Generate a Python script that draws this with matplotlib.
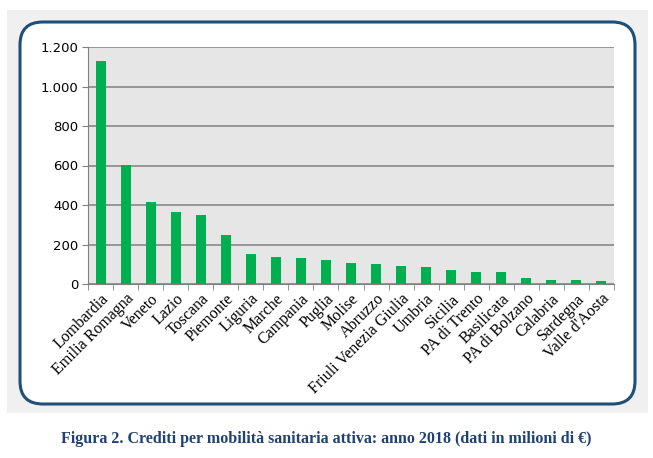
import matplotlib.pyplot as plt
from matplotlib.patches import FancyBboxPatch, Rectangle
from matplotlib.ticker import FuncFormatter

# Crediti per mobilita sanitaria attiva, anno 2018 (milioni di euro)
regioni = ['Lombardia', 'Emilia Romagna', 'Veneto', 'Lazio', 'Toscana', 'Piemonte',
           'Liguria', 'Marche', 'Campania', 'Puglia', 'Molise', 'Abruzzo',
           'Friuli Venezia Giulia', 'Umbria', 'Sicilia', 'PA di Trento', 'Basilicata',
           'PA di Bolzano', 'Calabria', 'Sardegna', "Valle d'Aosta"]
crediti = [1129, 602, 413, 365, 350, 248, 154, 137, 130, 124, 106, 101,
           91, 88, 73, 62, 61, 29, 19, 19, 14]
yticks = [0, 200, 400, 600, 800, 1000, 1200]

W, H = 653, 458
fig = plt.figure(figsize=(W / 100, H / 100), dpi=100)

# light shadow behind the frame, then the rounded white box
fig.patches.append(Rectangle((7 / W, 1 - 413 / H), 641 / W, 403 / H,
                             transform=fig.transFigure, facecolor='#f0f0f0',
                             edgecolor='none', zorder=0))
fig.patches.append(FancyBboxPatch((20 / W, 1 - 404 / H), 615 / W, 382 / H,
                                  boxstyle='round,pad=0,rounding_size=0.035',
                                  transform=fig.transFigure, facecolor='white',
                                  edgecolor='#1f4e79', linewidth=2.2, zorder=1,
                                  mutation_aspect=W / H))

ax = fig.add_axes([88 / W, 1 - 284 / H, (614 - 88) / W, (284 - 47) / H])
ax.set_zorder(2)
ax.set_facecolor('#e6e6e6')

x = range(len(regioni))
ax.bar(x, crediti, width=0.4, color='#00b050', zorder=3)

ax.set_xlim(-0.5, len(regioni) - 0.5)
ax.set_ylim(0, 1200)
ax.set_yticks(yticks)
ax.yaxis.set_major_formatter(FuncFormatter(lambda v, p: f'{int(v):,}'.replace(',', '.')))
ax.grid(axis='y', color='#808080', linewidth=1.1, zorder=1)
ax.tick_params(axis='y', length=4, color='#808080', labelsize=9.5, pad=3)

ax.set_xticks([i - 0.5 for i in range(len(regioni) + 1)], minor=True)
ax.set_xticks(list(x))
ax.set_xticklabels(regioni, rotation=45, ha='right', rotation_mode='anchor',
                   fontfamily='Liberation Serif', fontsize=11.5)
ax.tick_params(axis='x', which='major', length=0, pad=5)
ax.tick_params(axis='x', which='minor', length=4, color='#808080')

for side in ['top', 'right']:
    ax.spines[side].set_visible(False)
for side in ['left', 'bottom']:
    ax.spines[side].set_color('#808080')

fig.text(0.5, 1 - 439 / H,
         'Figura 2. Crediti per mobilità sanitaria attiva: anno 2018 (dati in milioni di €)',
         ha='center', va='center', fontsize=11.5, fontweight='bold',
         fontfamily='Liberation Serif', color='#1f4273')

fig.savefig('out.png', dpi=100)
